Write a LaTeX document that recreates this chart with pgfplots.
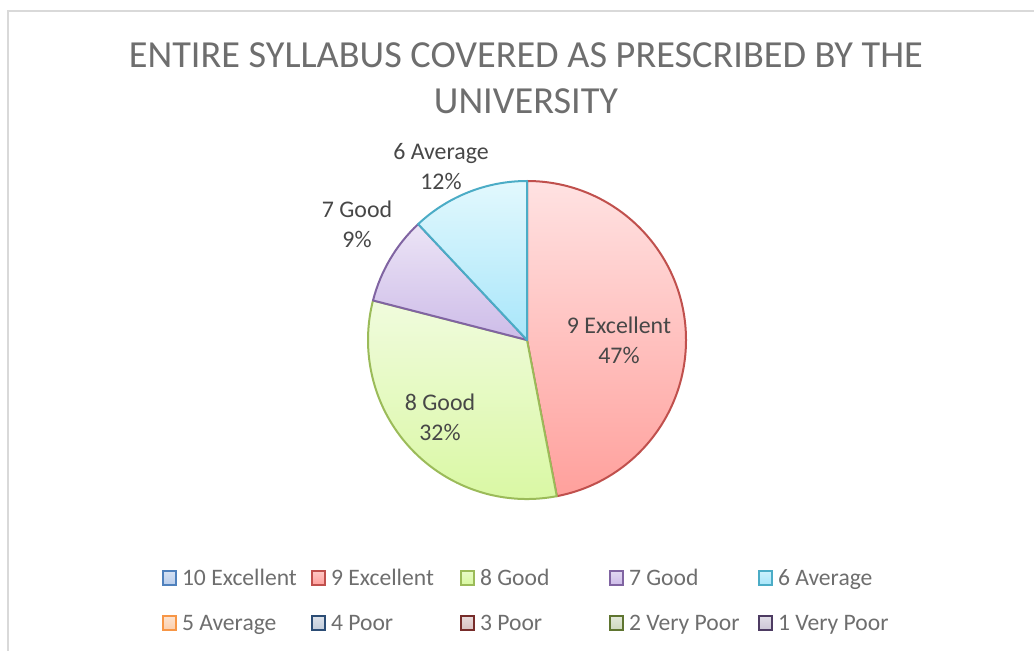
\documentclass[border=0pt]{standalone}
\usepackage{pgfplots}
\pgfplotsset{compat=1.18}
\usepackage{fontspec}
\setmainfont{Carlito}

% series colours (border / light top / darker bottom)
\definecolor{l10}{HTML}{4F81BD}\definecolor{t10}{HTML}{E4EDF8}\definecolor{b10}{HTML}{B9CDEB}
\definecolor{l9}{HTML}{C0504D}\definecolor{t9}{HTML}{FFE2E2}\definecolor{b9}{HTML}{FFA09C}
\definecolor{l8}{HTML}{9BBB59}\definecolor{t8}{HTML}{F0FBDD}\definecolor{b8}{HTML}{D8F8A0}
\definecolor{l7}{HTML}{8064A2}\definecolor{t7}{HTML}{ECE4F6}\definecolor{b7}{HTML}{CDBCE8}
\definecolor{l6}{HTML}{4BACC6}\definecolor{t6}{HTML}{E2F8FD}\definecolor{b6}{HTML}{A8E6FA}
\definecolor{l5}{HTML}{F79646}\definecolor{t5}{HTML}{FEEBDC}\definecolor{b5}{HTML}{FBCFAE}
\definecolor{l4}{HTML}{2C4D75}\definecolor{t4}{HTML}{E6EBF1}\definecolor{b4}{HTML}{C2CCDA}
\definecolor{l3}{HTML}{772C2A}\definecolor{t3}{HTML}{F0E4E4}\definecolor{b3}{HTML}{D8C0C0}
\definecolor{l2}{HTML}{5F7530}\definecolor{t2}{HTML}{EDF1E6}\definecolor{b2}{HTML}{CED8BE}
\definecolor{l1}{HTML}{4D3B62}\definecolor{t1}{HTML}{ECE9F0}\definecolor{b1}{HTML}{CCC6D6}
\definecolor{titlecol}{HTML}{6E6E6E}
\definecolor{labcol}{HTML}{474747}
\definecolor{legcol}{HTML}{6E6E6E}
\definecolor{framecol}{HTML}{D9D9D9}

% data: shares in percent
\def\vA{0}   % 10 Excellent
\def\vB{47}  % 9 Excellent
\def\vC{32}  % 8 Good
\def\vD{9}   % 7 Good
\def\vE{12}  % 6 Average
\pgfmathsetmacro\aA{90}
\pgfmathsetmacro\aB{\aA-3.6*\vB}
\pgfmathsetmacro\aC{\aB-3.6*\vC}
\pgfmathsetmacro\aD{\aC-3.6*\vD}
\pgfmathsetmacro\aE{\aD-3.6*\vE}
\def\R{119.25pt}% 159 px

\newcommand{\legimg}[2]{\draw[draw=#1,line width=1.5pt,top color=white!40!#2,bottom color=#2] (0.75pt,-4.9pt) rectangle (10.5pt,4.9pt);}

\begin{document}
\begin{tikzpicture}[x=0.75pt,y=0.75pt]
\useasboundingbox (0,0) rectangle (1034,650);
\begin{axis}[
  x=0.75pt, y=0.75pt,
  xmin=0, xmax=1034, ymin=0, ymax=650,
  enlargelimits=false,
  at={(0,0)}, anchor=south west,
  hide axis,
  legend columns=5,
  legend style={
    draw=none, fill=none, inner sep=0pt, outer sep=0pt,
    at={(0.1567,0.1298)}, anchor=north west,
    nodes={inner sep=0pt, text height=15pt, text depth=3.6pt, text=legcol, font=\fontsize{17.7}{21}\selectfont},
    row sep=15.15pt, column sep=0pt,
  },
  legend cell align=left,
]
% frame
\draw[framecol, line width=1.5pt] (axis cs:8,-20) rectangle (axis cs:1100,639);

% slices
\shadedraw[draw=l9, line width=1.5pt, line join=round, top color=t9, bottom color=b9]
  (axis cs:527,310) -- ++(\aA:\R) arc[start angle=\aA, end angle=\aB, radius=\R] -- cycle;
\shadedraw[draw=l8, line width=1.5pt, line join=round, top color=t8, bottom color=b8]
  (axis cs:527,310) -- ++(\aB:\R) arc[start angle=\aB, end angle=\aC, radius=\R] -- cycle;
\shadedraw[draw=l7, line width=1.5pt, line join=round, top color=t7, bottom color=b7]
  (axis cs:527,310) -- ++(\aC:\R) arc[start angle=\aC, end angle=\aD, radius=\R] -- cycle;
\shadedraw[draw=l6, line width=1.5pt, line join=round, top color=t6, bottom color=b6]
  (axis cs:527,310) -- ++(\aD:\R) arc[start angle=\aD, end angle=\aE, radius=\R] -- cycle;

% data labels
\node[align=center, text=labcol, font=\fontsize{17.9}{22.5}\selectfont, inner sep=0pt] at (axis cs:619,310) {9 Excellent\\47\%};
\node[align=center, text=labcol, font=\fontsize{17.9}{22.5}\selectfont, inner sep=0pt] at (axis cs:440,232.5) {8 Good\\32\%};
\node[align=center, text=labcol, font=\fontsize{17.9}{22.5}\selectfont, inner sep=0pt] at (axis cs:357,426) {7 Good\\9\%};
\node[align=center, text=labcol, font=\fontsize{17.9}{22.5}\selectfont, inner sep=0pt] at (axis cs:441,483.5) {6 Average\\12\%};

% title
\node[align=center, text=titlecol, font=\fontsize{28.7}{34.5}\selectfont, inner sep=0pt] at (axis cs:526,572) {ENTIRE SYLLABUS COVERED AS PRESCRIBED BY THE\\UNIVERSITY};

% legend
\addlegendimage{legend image code/.code={\legimg{l10}{b10}}}
\addlegendentry{\makebox[100.5pt][l]{\hspace{3.75pt}10 Excellent}}
\addlegendimage{legend image code/.code={\legimg{l9}{b9}}}
\addlegendentry{\makebox[100.5pt][l]{\hspace{3.75pt}9 Excellent}}
\addlegendimage{legend image code/.code={\legimg{l8}{b8}}}
\addlegendentry{\makebox[100.5pt][l]{\hspace{3.75pt}8 Good}}
\addlegendimage{legend image code/.code={\legimg{l7}{b7}}}
\addlegendentry{\makebox[100.5pt][l]{\hspace{3.75pt}7 Good}}
\addlegendimage{legend image code/.code={\legimg{l6}{b6}}}
\addlegendentry{\makebox[100.5pt][l]{\hspace{3.75pt}6 Average}}
\addlegendimage{legend image code/.code={\legimg{l5}{b5}}}
\addlegendentry{\makebox[100.5pt][l]{\hspace{3.75pt}5 Average}}
\addlegendimage{legend image code/.code={\legimg{l4}{b4}}}
\addlegendentry{\makebox[100.5pt][l]{\hspace{3.75pt}4 Poor}}
\addlegendimage{legend image code/.code={\legimg{l3}{b3}}}
\addlegendentry{\makebox[100.5pt][l]{\hspace{3.75pt}3 Poor}}
\addlegendimage{legend image code/.code={\legimg{l2}{b2}}}
\addlegendentry{\makebox[100.5pt][l]{\hspace{3.75pt}2 Very Poor}}
\addlegendimage{legend image code/.code={\legimg{l1}{b1}}}
\addlegendentry{\makebox[100.5pt][l]{\hspace{3.75pt}1 Very Poor}}
\end{axis}
\end{tikzpicture}
\end{document}
